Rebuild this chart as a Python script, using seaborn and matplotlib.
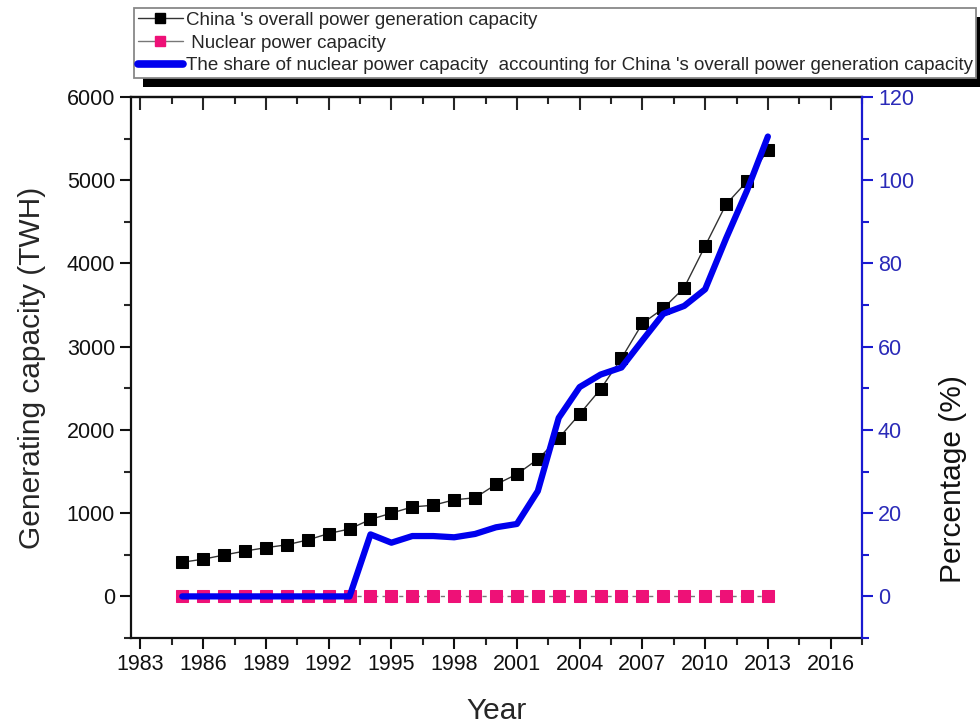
import numpy as np
import pandas as pd
import matplotlib
matplotlib.use("Agg")
import matplotlib.pyplot as plt
from matplotlib.patches import Rectangle
from matplotlib.lines import Line2D
from matplotlib.ticker import MultipleLocator
import seaborn as sns

years = list(range(1985, 2014))
total_capacity = [410, 447, 497, 545, 585, 620, 678, 755, 810, 925,
                  1000, 1075, 1095, 1160, 1185, 1345, 1468, 1648, 1900, 2190,
                  2490, 2860, 3280, 3460, 3710, 4210, 4710, 4985, 5365]
nuclear_capacity = [0, 0, 0, 0, 0, 0, 0, 0, 0, 0,
                    0, 0, 0, 0, 0, 0, 0, 0, 0, 0,
                    0, 0, 0, 0, 0, 0, 0, 0, 0]
nuclear_share = [0, 0, 0, 0, 0, 0, 0, 0, 0, 14.9,
                 12.9, 14.5, 14.5, 14.2, 15.0, 16.6, 17.4, 25.3, 42.9, 50.3,
                 53.3, 55.0, 61.5, 67.9, 69.8, 73.8, 86.0, 97.5, 110.5]
year_ticks = list(range(1983, 2017, 3))

label_total = "China 's overall power generation capacity"
label_nuclear = " Nuclear power capacity"
label_share = "The share of nuclear power capacity  accounting for China 's overall power generation capacity"

df = pd.DataFrame({"year": years, "total": total_capacity,
                   "nuclear": nuclear_capacity, "share": nuclear_share})

sns.set_style("ticks")
plt.rcParams["font.family"] = ["Liberation Sans", "DejaVu Sans"]

W, H = 980, 726
fig = plt.figure(figsize=(W / 100, H / 100), dpi=100)
ax = fig.add_axes([131 / W, 1 - 638 / H, (862 - 131) / W, (638 - 97) / H])

blue = "#0000ee"
axis_blue = "#1a1ad0"
pink = "#ee1177"

sns.lineplot(data=df, x="year", y="total", ax=ax, color="#333333", lw=1.0,
             marker="s", markersize=9, markerfacecolor="black",
             markeredgecolor="black", zorder=3)
sns.lineplot(data=df, x="year", y="nuclear", ax=ax, color="#777777", lw=1.0,
             linestyle=(0, (3, 3)), marker="s", markersize=8,
             markerfacecolor=pink, markeredgecolor=pink, zorder=3)

ax.set_xlim(1982.55, 2017.5)
ax.set_ylim(-500, 6000)
ax.set_xticks(year_ticks)
ax.xaxis.set_minor_locator(MultipleLocator(1.5))
ax.yaxis.set_major_locator(MultipleLocator(1000))
ax.yaxis.set_minor_locator(MultipleLocator(500))
ax.tick_params(axis="both", which="major", direction="out", length=8,
               width=1.5, labelsize=15.5, colors="#111111")
ax.tick_params(axis="both", which="minor", direction="out", length=5,
               width=1.5)
ax.set_xlabel("Year", fontsize=21.5, labelpad=16)
ax.set_ylabel("Generating capacity (TWH)", fontsize=21.5, labelpad=15)
for side in ["left", "bottom", "top"]:
    ax.spines[side].set_linewidth(1.6)
    ax.spines[side].set_color("#111111")
ax.spines["top"].set_visible(True)
ax.spines["right"].set_visible(False)

# inward ticks along the top edge
top = ax.secondary_xaxis("top")
top.set_xticks(year_ticks)
top.xaxis.set_minor_locator(MultipleLocator(1.5))
top.tick_params(which="major", direction="in", length=9, width=1.5,
                labeltop=False)
top.tick_params(which="minor", direction="in", length=5, width=1.5)
top.spines["top"].set_linewidth(1.6)

ax2 = ax.twinx()
sns.lineplot(data=df, x="year", y="share", ax=ax2, color=blue, lw=4.5,
             zorder=4)
ax2.set_ylim(-10, 120)
ax2.yaxis.set_major_locator(MultipleLocator(20))
ax2.yaxis.set_minor_locator(MultipleLocator(10))
ax2.tick_params(axis="y", which="major", direction="out", length=8, width=1.5,
                labelsize=15.5, colors=axis_blue, labelcolor="#2a2ab8")
ax2.tick_params(axis="y", which="minor", direction="out", length=5, width=1.5,
                colors=axis_blue)
ax2.set_ylabel("Percentage (%)", fontsize=21.5, color="#111111")
ax2.yaxis.set_label_coords(1.105, 0.294)
for side in ["left", "bottom", "top"]:
    ax2.spines[side].set_visible(False)
ax2.spines["right"].set_visible(True)
ax2.spines["right"].set_color(axis_blue)
ax2.spines["right"].set_linewidth(1.6)

handles = [
    Line2D([], [], color="#333333", lw=1.0, marker="s", markersize=7,
           markerfacecolor="black", markeredgecolor="black"),
    Line2D([], [], color="#777777", lw=1.0, marker="s", markersize=7,
           markerfacecolor=pink, markeredgecolor=pink),
    Line2D([], [], color=blue, lw=5.5, solid_capstyle="round"),
]
leg = fig.legend(handles, [label_total, label_nuclear, label_share],
                 loc="upper left", bbox_to_anchor=(134 / W, 1 - 8 / H),
                 fontsize=13.5, frameon=True, fancybox=False,
                 handlelength=2.4, handletextpad=0.15, labelspacing=0.3,
                 borderpad=0.2, borderaxespad=0.0)
leg.get_frame().set_edgecolor("#888888")
leg.get_frame().set_linewidth(1.3)
leg.get_frame().set_facecolor("white")
leg.get_frame().set_alpha(1)
leg.set_zorder(10)

# solid drop shadow under the legend box
fig.canvas.draw()
bb = leg.get_window_extent().transformed(fig.transFigure.inverted())
dx, dy = 9 / W, 9 / H
fig.patches.append(Rectangle((bb.x0 + dx, bb.y0 - dy), bb.width, bb.height,
                             transform=fig.transFigure, facecolor="black",
                             edgecolor="none", zorder=9))

fig.savefig("out.png", dpi=100, facecolor="white")
